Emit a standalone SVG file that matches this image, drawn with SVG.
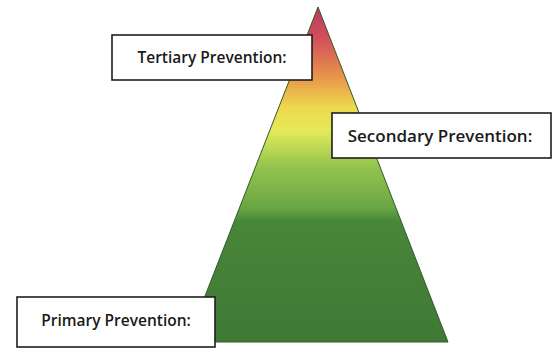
<svg xmlns="http://www.w3.org/2000/svg" width="558" height="351" viewBox="0 0 558 351">
<style>
.box{fill:#ffffff;stroke:#1e1e1e;stroke-width:1.6}
.lbl{font-family:"Open Sans","Liberation Sans",sans-serif;font-weight:600;font-size:15.5px;fill:#1a1a1a;text-anchor:middle}
.big{font-size:17px}
</style>
<defs>
<linearGradient id="pyr" x1="0" y1="7" x2="0" y2="342" gradientUnits="userSpaceOnUse">
<stop offset="0" stop-color="#b83a5e"/>
<stop offset="0.1" stop-color="#d4525a"/>
<stop offset="0.2" stop-color="#e6904a"/>
<stop offset="0.3" stop-color="#eed84e"/>
<stop offset="0.37" stop-color="#e4ea5a"/>
<stop offset="0.47" stop-color="#98c64e"/>
<stop offset="0.6" stop-color="#6aa544"/>
<stop offset="0.64" stop-color="#488639"/>
<stop offset="1" stop-color="#3f7a35"/>
</linearGradient>
</defs>
<rect width="558" height="351" fill="#ffffff"/>
<g id="pyramid">
<polygon points="318,7 448,342 187,342" fill="url(#pyr)" stroke="#2f5a2a" stroke-width="1"/>
</g>
<g id="tertiary">
<rect class="box" x="112" y="35" width="200" height="45"/>
<text class="lbl" x="212" y="63">Tertiary Prevention:</text>
</g>
<g id="secondary">
<rect class="box" x="332" y="113" width="219" height="45"/>
<text class="lbl big" x="440" y="142">Secondary Prevention:</text>
</g>
<g id="primary">
<rect class="box" x="17" y="297" width="198" height="50"/>
<text class="lbl" x="116" y="326">Primary Prevention:</text>
</g>
<g id="connectors"/>
</svg>
